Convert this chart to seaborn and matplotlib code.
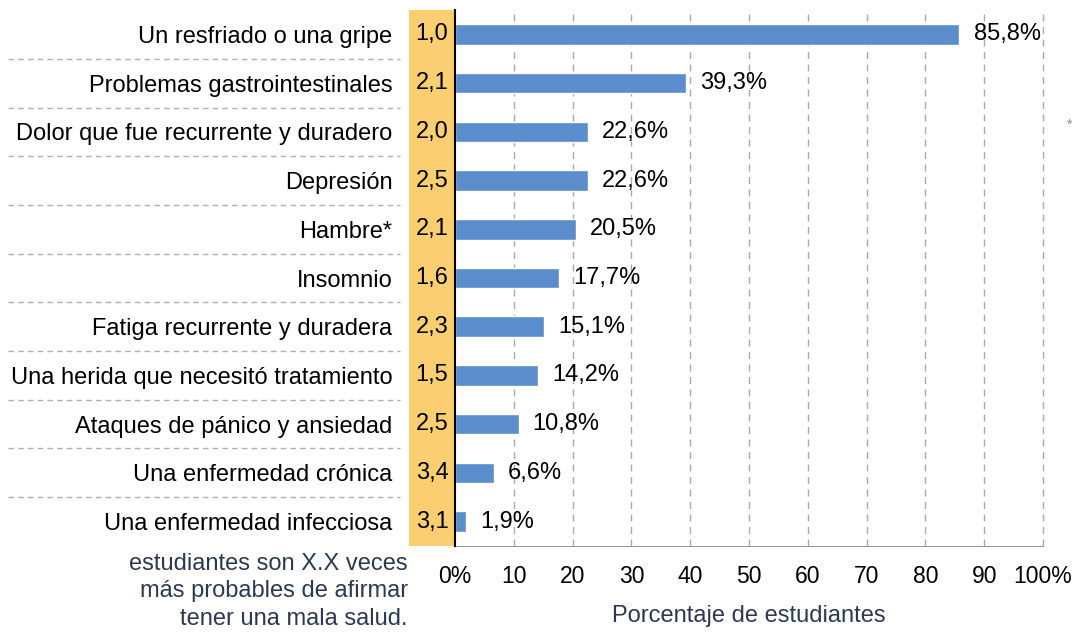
import pandas as pd
import seaborn as sns
import matplotlib.pyplot as plt
from matplotlib.transforms import blended_transform_factory
from matplotlib.lines import Line2D
from matplotlib.patches import Rectangle

categorias = ['Un resfriado o una gripe', 'Problemas gastrointestinales',
              'Dolor que fue recurrente y duradero', 'Depresión', 'Hambre*',
              'Insomnio', 'Fatiga recurrente y duradera',
              'Una herida que necesitó tratamiento', 'Ataques de pánico y ansiedad',
              'Una enfermedad crónica', 'Una enfermedad infecciosa']
porcentajes = [85.8, 39.3, 22.6, 22.6, 20.5, 17.7, 15.1, 14.2, 10.8, 6.6, 1.9]
veces = ['1,0', '2,1', '2,0', '2,5', '2,1', '1,6', '2,3', '1,5', '2,5', '3,4', '3,1']
xticks = [0, 10, 20, 30, 40, 50, 60, 70, 80, 90, 100]
xticklabels = ['0%', '10', '20', '30', '40', '50', '60', '70', '80', '90', '100%']

df = pd.DataFrame({'categoria': categorias, 'pct': porcentajes})

sns.set_style('white')
plt.rcParams['font.family'] = ['Liberation Sans', 'DejaVu Sans']
plt.rcParams['text.color'] = 'black'
plt.rcParams['xtick.color'] = 'black'
plt.rcParams['ytick.color'] = 'black'

azul = '#5b8ccb'
naranja = '#fcce72'
texto_azul = '#2b3a52'
fs = 17

fig = plt.figure(figsize=(10.8, 6.34), dpi=100)
ax = fig.add_axes([0.4213, 0.139, 0.5444, 0.845])

sns.barplot(data=df, x='pct', y='categoria', orient='h', color=azul,
            width=0.42, saturation=1, ax=ax, zorder=3)

ax.set_xlim(0, 100)
ax.set_ylim(len(categorias) - 0.5, -0.5)
ax.set_xticks(xticks)
ax.set_xticklabels(xticklabels, fontsize=16.5)
ax.tick_params(axis='x', length=4, color='#999999', labelcolor='black', pad=10, direction='out')
ax.tick_params(axis='y', length=0, pad=45, labelsize=fs, labelcolor='black')
for lbl in ax.get_yticklabels():
    lbl.set_horizontalalignment('right')

ax.set_ylabel('')
ax.set_xlabel('Porcentaje de estudiantes', fontsize=fs, color=texto_azul, labelpad=12)

for x in xticks[1:]:
    ax.axvline(x, color='#aaaaaa', lw=1, ls=(0, (5, 4)), zorder=1, clip_on=False)

for s in ['top', 'right']:
    ax.spines[s].set_visible(False)
ax.spines['left'].set_color('black')
ax.spines['left'].set_linewidth(1.5)
ax.spines['left'].set_zorder(5)
ax.spines['bottom'].set_color('#999999')

# banda naranja con los valores "veces"
trans = blended_transform_factory(fig.transFigure, ax.transAxes)
fig_x0 = 409 / 1080
ax_x0 = ax.get_position().x0
ax.add_patch(Rectangle((fig_x0, 0), ax_x0 - fig_x0, 1, transform=trans,
                       facecolor=naranja, edgecolor='none', clip_on=False, zorder=0))
trans_y = blended_transform_factory(fig.transFigure, ax.transData)
for i, v in enumerate(veces):
    ax.text((fig_x0 + ax_x0) / 2, i, v, transform=trans_y, ha='center',
            va='center', fontsize=fs, clip_on=False)

# separadores discontinuos entre etiquetas
for i in range(len(categorias) - 1):
    ax.add_line(Line2D([8 / 1080, 400 / 1080], [i + 0.5, i + 0.5], transform=trans_y,
                       color='#b0b0b0', lw=1, ls=(0, (4, 3)), clip_on=False))

# etiquetas de valor
for i, p in enumerate(porcentajes):
    ax.text(p + 2.4, i, f'{p:.1f}%'.replace('.', ','), va='center',
            ha='left', fontsize=fs, zorder=4)

fig.text(408 / 1080, 1 - 553 / 634,
         'estudiantes son X.X veces\nmás probables de afirmar\ntener una mala salud.',
         ha='right', va='top', fontsize=fs, color=texto_azul, linespacing=1.32)
fig.text(1070 / 1080, 1 - 125 / 634, '*', ha='center', va='center',
         fontsize=10, color='#888888')

fig.savefig('out.png', dpi=100)
